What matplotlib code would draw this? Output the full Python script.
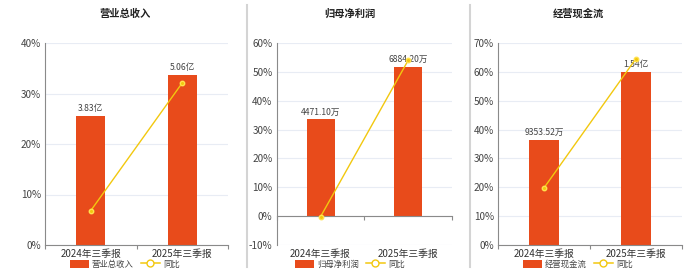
import numpy as np
import matplotlib.pyplot as plt
from matplotlib.patches import Patch
from matplotlib.lines import Line2D

plt.rcParams['font.family'] = ['Noto Sans CJK SC', 'DejaVu Sans']

# 数据
categories = ['2024年三季报', '2025年三季报']
titles = ['营业总收入', '归母净利润', '经营现金流']
bar_values = [[38300, 50600], [4471.10, 6884.20], [9353.52, 15400]]  # 单位: 万
bar_texts = [['3.83亿', '5.06亿'], ['4471.10万', '6884.20万'], ['9353.52万', '1.54亿']]
yoy = [[6.8, 32.1], [-0.2, 54.0], [19.8, 64.6]]  # 同比 %
pct_ticks = [[0, 10, 20, 30, 40], [-10, 0, 10, 20, 30, 40, 50, 60], [0, 10, 20, 30, 40, 50, 60, 70]]
bar_top = [60000, 8000, 18000]

bar_color = '#E84B1B'
line_color = '#F2C80F'
grid_color = '#E8ECF4'
spine_color = '#8A8A8A'
text_color = '#444444'

# 面板位置 (像素)
W, H = 700, 272
ax_left = [45, 276.7, 498]
ax_right = [228, 452, 682]
ax_top, ax_bottom = 43, 245
title_x = [125, 350, 578]
sep_x = [247, 470]

fig = plt.figure(figsize=(7, 2.72), dpi=100)

for k in range(3):
    rect = [ax_left[k] / W, 1 - ax_bottom / H, (ax_right[k] - ax_left[k]) / W, (ax_bottom - ax_top) / H]
    ax = fig.add_axes(rect)
    ticks = pct_ticks[k]
    lo_p, hi_p = ticks[0], ticks[-1]
    # 柱子所在坐标轴，零点与百分比轴对齐
    hi_b = bar_top[k]
    lo_b = hi_b * lo_p / hi_p
    ax.set_ylim(lo_b, hi_b)
    ax.set_xlim(-0.5, 1.5)
    ax.set_yticks(np.linspace(lo_b, hi_b, len(ticks)))
    ax.yaxis.grid(True, color=grid_color, linewidth=0.8)
    ax.set_axisbelow(True)
    ax.tick_params(axis='y', length=0, labelleft=False)
    x = np.arange(len(categories))
    ax.bar(x, bar_values[k], width=0.32, color=bar_color, zorder=2)
    for xi, v, t in zip(x, bar_values[k], bar_texts[k]):
        ax.annotate(t, (xi, v), xytext=(0, 2), textcoords='offset points',
                    ha='center', va='bottom', fontsize=6.2, color=text_color)
    # 坐标轴线
    for s in ['top', 'right']:
        ax.spines[s].set_visible(False)
    ax.spines['left'].set_color(spine_color)
    ax.spines['bottom'].set_color(spine_color)
    ax.spines['bottom'].set_position(('data', 0))
    ax.set_xticks([-0.5, 0.5, 1.5])
    ax.set_xticklabels([])
    ax.tick_params(axis='x', length=3, color=spine_color, direction='out')
    for xi, c in zip(x, categories):
        ax.text(xi, -0.045, c, transform=ax.get_xaxis_transform(), ha='center', va='center',
                fontsize=7, color='#333333')

    # 同比折线
    ax2 = ax.twinx()
    ax2.set_ylim(lo_p, hi_p)
    ax2.set_yticks(ticks)
    ax2.set_yticklabels(['%d%%' % t for t in ticks])
    ax2.yaxis.tick_left()
    ax2.tick_params(axis='y', length=0, labelsize=7.2, labelcolor=text_color, pad=3)
    for s in ax2.spines.values():
        s.set_visible(False)
    ax2.plot(x, yoy[k], color=line_color, linewidth=1.0, marker='o', markersize=3.2,
             markerfacecolor=line_color, markeredgecolor='#FFE14D', zorder=3)

    fig.text(title_x[k] / W, 1 - 14 / H, titles[k], ha='center', va='center',
             fontsize=7.4, fontweight='bold', color='#222222')
    handles = [Patch(facecolor=bar_color, edgecolor='none'),
               Line2D([0], [0], color=line_color, marker='o', markersize=5,
                      markerfacecolor='white', markeredgecolor=line_color, linewidth=1.1)]
    fig.legend(handles, [titles[k], '同比'], loc='center', bbox_to_anchor=(title_x[k] / W, 1 - 264 / H),
               ncol=2, frameon=False, fontsize=6, handlelength=2.2, handleheight=1.1,
               columnspacing=0.9, handletextpad=0.4, labelcolor=text_color)

for sx in sep_x:
    fig.add_artist(Line2D([sx / W, sx / W], [1 - 267 / H, 1 - 5 / H], transform=fig.transFigure,
                          color='#D4D4D4', linewidth=1.5))

fig.savefig('out.png', dpi=100, facecolor='white')
